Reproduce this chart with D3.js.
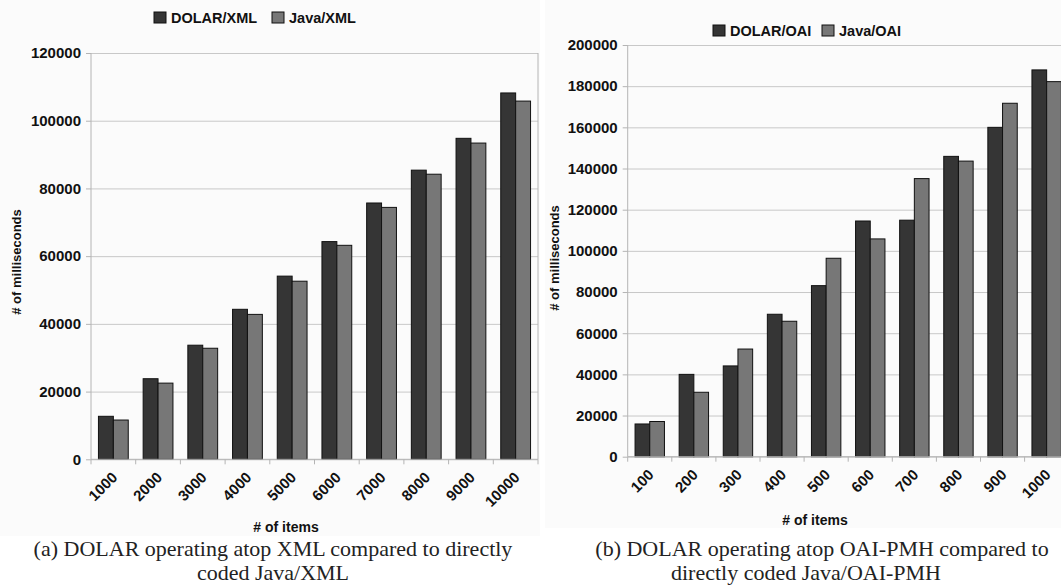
<!DOCTYPE html>
<html>
<head>
<meta charset="utf-8">
<script src="https://cdn.jsdelivr.net/npm/d3@7"></script>
<style>
  body { margin: 0; background: #fff; }
  svg { display: block; }
  .axis text { font-family: "Liberation Sans", Arial, sans-serif; font-weight: bold; font-size: 15px; fill: #111; }
  .axis path, .axis line { stroke: #b4b4b4; }
  .grid line { stroke: #c8c8c8; }
  .grid path { display: none; }
  .lbl { font-family: "Liberation Sans", Arial, sans-serif; font-weight: bold; fill: #111; }
  .cap { font-family: "Liberation Serif", "Times New Roman", serif; font-size: 22px; fill: #222; }
</style>
</head>
<body>
<div id="chart"></div>
<script>
// ... data
const xmlItems = ['1000', '2000', '3000', '4000', '5000', '6000', '7000', '8000', '9000', '10000'];
const dolarXml = [12700, 23800, 33700, 44300, 54100, 64300, 75700, 85400, 94800, 108200];
const javaXml = [11600, 22500, 32800, 42800, 52600, 63200, 74400, 84200, 93400, 105800];
const xmlTicks = [0, 20000, 40000, 60000, 80000, 100000, 120000];

const oaiItems = ['100', '200', '300', '400', '500', '600', '700', '800', '900', '1000'];
const dolarOai = [15900, 40000, 44100, 69200, 83100, 114500, 114900, 145900, 160000, 187900];
const javaOai = [17100, 31300, 52300, 65800, 96400, 105800, 135100, 143600, 171700, 182200];
const oaiTicks = [0, 20000, 40000, 60000, 80000, 100000, 120000, 140000, 160000, 180000, 200000];

const DARK = '#353535';
const LIGHT = '#777777';

const svg = d3.select('#chart').append('svg')
    .attr('width', 1061)
    .attr('height', 586);

function drawChart(cfg) {
    // faint chart area background
    svg.append('rect')
        .attr('x', cfg.bg[0]).attr('y', cfg.bg[1])
        .attr('width', cfg.bg[2]).attr('height', cfg.bg[3])
        .attr('fill', '#fbfbfb');

    const x = d3.scaleBand()
        .domain(cfg.items)
        .range([cfg.left, cfg.right])
        .paddingInner(1 / 3)
        .paddingOuter(1 / 6);

    const sub = d3.scaleBand()
        .domain(['a', 'b'])
        .range([0, x.bandwidth()]);

    const y = d3.scaleLinear()
        .domain([0, cfg.max])
        .range([cfg.bottom, cfg.top]);

    const width = cfg.right - cfg.left;

    // ... grid
    svg.append('g')
        .attr('class', 'grid')
        .attr('transform', 'translate(' + cfg.left + ',0)')
        .call(d3.axisLeft(y).tickValues(cfg.ticks).tickSize(-width).tickFormat(''));

    if (cfg.border) {
        svg.append('line')
            .attr('x1', cfg.right).attr('x2', cfg.right)
            .attr('y1', cfg.top).attr('y2', cfg.bottom)
            .attr('stroke', '#b4b4b4');
    }

    // ... y axis
    svg.append('g')
        .attr('class', 'axis')
        .attr('transform', 'translate(' + cfg.left + ',0)')
        .call(d3.axisLeft(y).tickValues(cfg.ticks).tickSize(5).tickPadding(5).tickFormat(d3.format('d')))
        .call(g => g.select('.domain').attr('d', 'M0,' + cfg.top + 'V' + cfg.bottom));

    // ... bars
    const groups = svg.append('g').selectAll('g')
        .data(cfg.items)
        .join('g')
        .attr('transform', d => 'translate(' + x(d) + ',0)');

    groups.append('rect')
        .attr('x', sub('a'))
        .attr('y', (d, i) => y(cfg.s1[i]))
        .attr('width', sub.bandwidth())
        .attr('height', (d, i) => cfg.bottom - y(cfg.s1[i]))
        .attr('fill', DARK)
        .attr('stroke', '#111')
        .attr('stroke-width', 1);

    groups.append('rect')
        .attr('x', sub('b'))
        .attr('y', (d, i) => y(cfg.s2[i]))
        .attr('width', sub.bandwidth())
        .attr('height', (d, i) => cfg.bottom - y(cfg.s2[i]))
        .attr('fill', LIGHT)
        .attr('stroke', '#111')
        .attr('stroke-width', 1);

    // ... x axis with ticks between groups
    const xa = svg.append('g')
        .attr('class', 'axis')
        .attr('transform', 'translate(0,' + cfg.bottom + ')')
        .call(d3.axisBottom(x).tickSize(0).tickSizeOuter(0));

    xa.select('.domain').attr('d', 'M' + cfg.left + ',0H' + cfg.right);

    xa.selectAll('.tick text')
        .attr('y', 0)
        .attr('dy', 0)
        .attr('text-anchor', 'end')
        .attr('transform', 'translate(5,19) rotate(-45)');

    const step = x.step();
    const bounds = d3.range(cfg.items.length + 1).map(i => cfg.left + i * step);
    xa.selectAll('.sep')
        .data(bounds)
        .join('line')
        .attr('class', 'sep')
        .attr('x1', d => d).attr('x2', d => d)
        .attr('y1', 0).attr('y2', 5);

    // ... axis titles
    svg.append('text')
        .attr('class', 'lbl')
        .attr('font-size', 13)
        .attr('text-anchor', 'middle')
        .attr('transform', 'translate(' + cfg.yLabel[0] + ',' + cfg.yLabel[1] + ') rotate(-90)')
        .text('# of milliseconds');

    svg.append('text')
        .attr('class', 'lbl')
        .attr('font-size', 14)
        .attr('text-anchor', 'middle')
        .attr('x', cfg.xLabel[0])
        .attr('y', cfg.xLabel[1])
        .text('# of items');

    // ... legend
    const leg = svg.append('g')
        .attr('transform', 'translate(' + cfg.legend[0] + ',' + cfg.legend[1] + ')');

    cfg.names.forEach((name, i) => {
        const gx = cfg.legendX[i];
        leg.append('rect')
            .attr('x', gx).attr('y', -11)
            .attr('width', 12).attr('height', 11)
            .attr('fill', i === 0 ? DARK : LIGHT)
            .attr('stroke', '#111');
        leg.append('text')
            .attr('class', 'lbl')
            .attr('font-size', 14.5)
            .attr('x', gx + 17)
            .attr('y', 0)
            .text(name);
    });

    // ... caption
    cfg.caption.forEach(c => {
        svg.append('text')
            .attr('class', 'cap')
            .attr('text-anchor', 'middle')
            .attr('x', c[0])
            .attr('y', c[1])
            .text(c[2]);
    });
}

drawChart({
    items: xmlItems, s1: dolarXml, s2: javaXml, ticks: xmlTicks, max: 120000,
    left: 91, right: 538, top: 53, bottom: 459.3,
    border: true,
    bg: [0, 0, 540, 536],
    yLabel: [21, 262], xLabel: [286, 532],
    legend: [154, 23], legendX: [0, 118], names: ['DOLAR/XML', 'Java/XML'],
    caption: [[273, 556, '(a) DOLAR operating atop XML compared to directly'],
              [273, 580, 'coded Java/XML']]
});

drawChart({
    items: oaiItems, s1: dolarOai, s2: javaOai, ticks: oaiTicks, max: 200000,
    left: 627.7, right: 1068.7, top: 45, bottom: 456.7,
    border: false,
    bg: [545, 0, 516, 528],
    yLabel: [559, 258], xLabel: [815, 525],
    legend: [713, 36], legendX: [0, 109], names: ['DOLAR/OAI', 'Java/OAI'],
    caption: [[822, 556, '(b) DOLAR operating atop OAI-PMH compared to'],
              [806, 580, 'directly coded Java/OAI-PMH']]
});
</script>
</body>
</html>
